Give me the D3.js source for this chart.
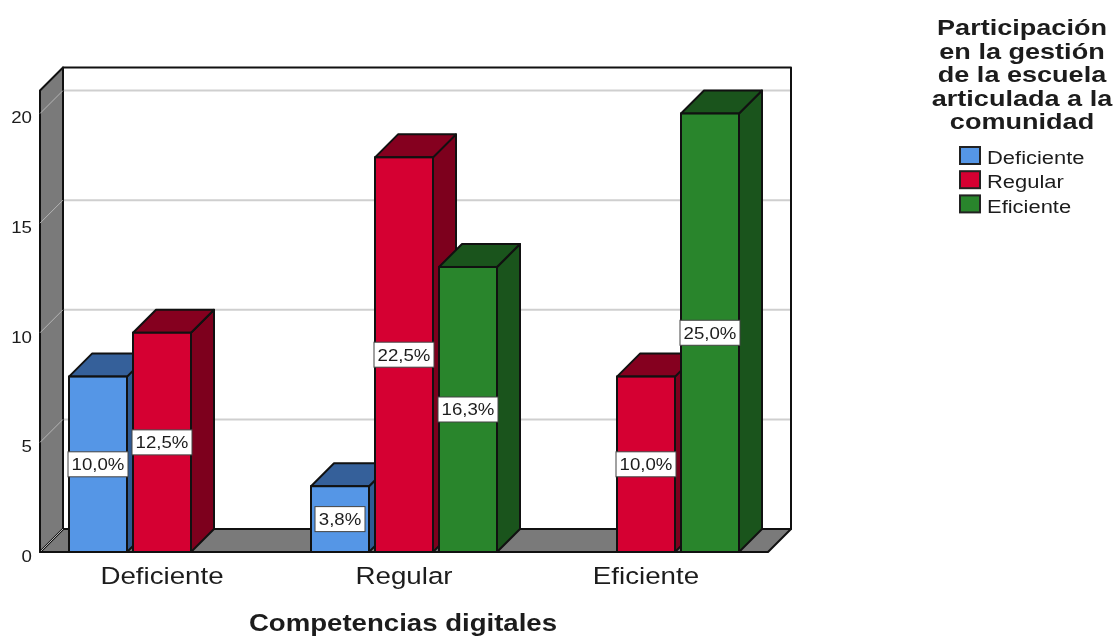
<!DOCTYPE html>
<html><head><meta charset="utf-8">
<script src="https://cdn.jsdelivr.net/npm/d3@7/dist/d3.min.js"></script>
<style>
html,body{margin:0;padding:0;background:#fff}
svg{display:block;filter:blur(0.45px)}
text{font-family:"Liberation Sans",Arial,sans-serif;fill:#1c1c1c}
</style></head><body>
<svg id="c" width="1117" height="637"></svg>
<script>
const categories = ["Deficiente","Regular","Eficiente"];
const seriesNames = ["Deficiente","Regular","Eficiente"];
const deficienteValues = [8,3,null];
const regularValues = [10,18,8];
const eficienteValues = [null,13,20];
const deficienteLabels = ["10,0%","3,8%",null];
const regularLabels = ["12,5%","22,5%","10,0%"];
const eficienteLabels = [null,"16,3%","25,0%"];
const yTicks = [0,5,10,15,20];
const legendTitle = ["Participación","en la gestión","de la escuela","articulada a la","comunidad"];
const xTitle = "Competencias digitales";

const faceColors = ["#5596e6","#d50032","#29852c"];
const topColors = ["#35609a","#85001f","#1a541c"];
const sideColors = ["#2f5a93","#7d001d","#1a541c"];
const wallColor = "#7a7a7a", depth = 23;

const svg = d3.select("#c");
const x0 = d3.scaleBand().domain(categories).range([41,767]);
const x1 = d3.scaleBand().domain(seriesNames).range([0,192]);
const offset = (x0.bandwidth()-192)/2;
const barW = 58;
const y = d3.scaleLinear().domain([0,21.05]).range([552,90.5]);
const poly = (pts,fill,stroke,sw=2)=>svg.append("polygon").attr("points",pts.map(p=>p.join(",")).join(" "))
  .attr("fill",fill).attr("stroke",stroke).attr("stroke-width",sw).attr("stroke-linejoin","round");
// horizontally stretched real text, anchored at the middle or the start
const wideText = (x,yy,str,size,sx,weight="400",anchor="middle")=>svg.append("text")
  .attr("transform",`translate(${x},${yy}) scale(${sx},1)`).attr("text-anchor",anchor)
  .style("font-size",size+"px").style("font-weight",weight).text(str);

const L=40,R=768,B=y(0),T=y(21.05);
poly([[L+depth,T-depth],[R+depth,T-depth],[R+depth,B-depth],[L+depth,B-depth]],"#fff","#111");
poly([[L,B],[L+depth,B-depth],[R+depth,B-depth],[R,B]],wallColor,"#111");
poly([[L,T],[L+depth,T-depth],[L+depth,B-depth],[L,B]],wallColor,"#111");
svg.selectAll("line.g").data(yTicks.filter(d=>d>0)).join("line").attr("class","g")
  .attr("x1",L+depth+1).attr("x2",R+depth-1).attr("y1",d=>y(d)-depth).attr("y2",d=>y(d)-depth)
  .attr("stroke","#cfcfcf").attr("stroke-width",2);
svg.selectAll("line.w").data(yTicks).join("line").attr("class","w")
  .attr("x1",L).attr("x2",L+depth).attr("y1",d=>y(d)).attr("y2",d=>y(d)-depth)
  .attr("stroke","#b5b5b5").attr("stroke-width",1);
svg.append("line").attr("x1",L).attr("x2",R).attr("y1",B).attr("y2",B).attr("stroke","#111").attr("stroke-width",2);

const all = [deficienteValues,regularValues,eficienteValues];
const labs = [deficienteLabels,regularLabels,eficienteLabels];
const bars=[];
categories.forEach((c,ci)=>seriesNames.forEach((s,si)=>{
  if(all[si][ci]!=null) bars.push({c,s,si,v:all[si][ci],l:labs[si][ci]});
}));
bars.forEach(d=>{
  const xa = x0(d.c)+offset+x1(d.s)+3, xb = xa+barW, yt=y(d.v);
  poly([[xb,yt],[xb+depth,yt-depth],[xb+depth,B-depth],[xb,B]],sideColors[d.si],"#111");
  poly([[xa,yt],[xa+depth,yt-depth],[xb+depth,yt-depth],[xb,yt]],topColors[d.si],"#111");
  svg.append("rect").attr("x",xa).attr("y",yt).attr("width",barW).attr("height",B-yt)
    .attr("fill",faceColors[d.si]).attr("stroke","#111").attr("stroke-width",2);
});
bars.forEach(d=>{
  const cx = x0(d.c)+offset+x1(d.s)+3+barW/2, cy=(y(d.v)+B)/2;
  const w = d.l.length>4?60:50;
  svg.append("rect").attr("x",cx-w/2).attr("y",cy-12.5).attr("width",w).attr("height",25)
    .attr("fill","#fff").attr("stroke","#444").attr("stroke-width",1);
  wideText(cx,cy+6,d.l,16.5,1.13);
});

// axes
const ya = d3.axisLeft(y).tickValues(yTicks).tickSize(0).tickPadding(0);
const yg = svg.append("g").attr("transform","translate(32,4)").call(ya);
yg.select(".domain").remove();
yg.selectAll("text").style("font-size","17px").style("font-family",'"Liberation Sans"').attr("fill","#1c1c1c")
  .attr("transform","scale(1.1,1)");
const xaxis = d3.axisBottom(x0).tickSize(0).tickPadding(0);
const xg = svg.append("g").attr("transform","translate(0,567)").call(xaxis);
xg.select(".domain").remove();
xg.selectAll("text").style("font-size","23.5px").style("font-family",'"Liberation Sans"').attr("fill","#1c1c1c")
  .attr("transform","scale(1.18,1)");

wideText(403,631,xTitle,23,1.2,"700");

// legend
legendTitle.forEach((t,i)=>wideText(1022,35+i*23.5,t,22,1.23,"700"));
seriesNames.forEach((s,i)=>{
  svg.append("rect").attr("x",960).attr("y",147+i*24.2).attr("width",20).attr("height",17)
    .attr("fill",faceColors[i]).attr("stroke","#222").attr("stroke-width",2);
  wideText(987,163.5+i*24.6,s,19,1.155,"400","start");
});
</script></body></html>
